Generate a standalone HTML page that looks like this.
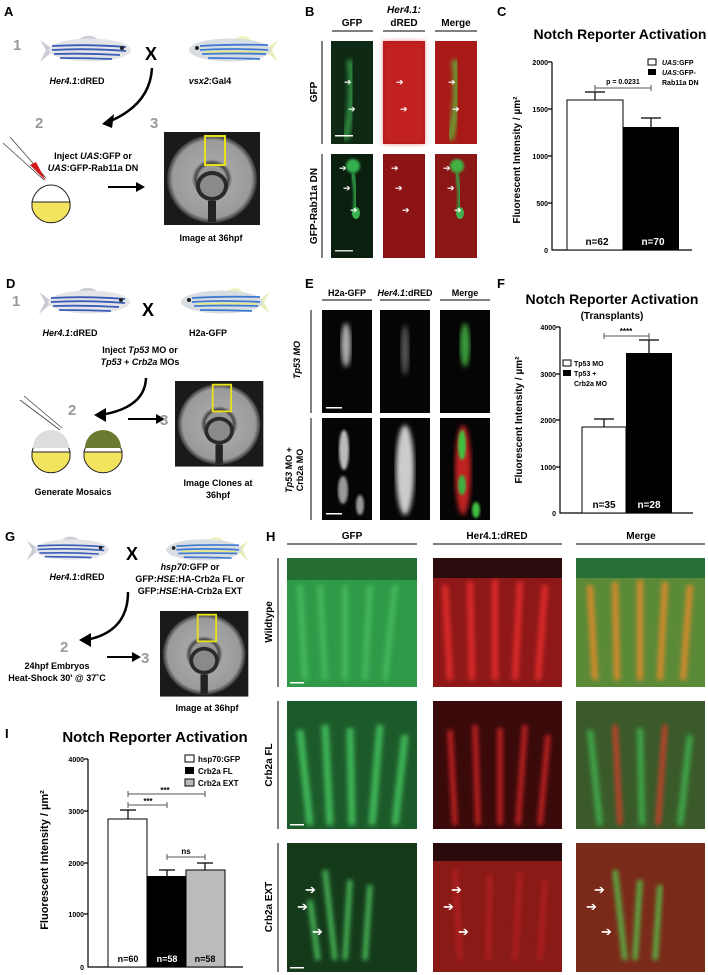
<!DOCTYPE html>
<html><head><meta charset="utf-8"><style>
html,body{margin:0;padding:0;background:#fff}
svg{display:block;font-family:"Liberation Sans",Arial,sans-serif}
</style></head><body>
<svg width="708" height="975" viewBox="0 0 708 975" xmlns="http://www.w3.org/2000/svg">
<defs>
<filter id="bl"><feGaussianBlur stdDeviation="2.5"/></filter>
<filter id="bl1"><feGaussianBlur stdDeviation="1.2"/></filter>
<g id="fishR">
 <path d="M2,5 L16,15 L2,27 L8,15 Z" fill="#c9ccd2"/>
 <path d="M40,5 Q50,-3 60,4 Z" fill="#c9ccd2"/>
 <ellipse cx="52" cy="15" rx="41" ry="11.5" fill="#e4e5e8"/>
 <path d="M14,11 Q50,9 88,12 M14,15 Q50,13 88,16 M16,19 Q50,18 82,20 M22,23 Q50,23 74,24" stroke="#3a5db8" stroke-width="1.8" fill="none"/>
 <circle cx="84" cy="13" r="2" fill="#222"/>
</g>
<g id="fishL">
 <path d="M98,5 L84,15 L98,27 L92,15 Z" fill="#e9eeb8"/>
 <path d="M55,4 Q65,-3 72,6 Z" fill="#eef2c0"/>
 <ellipse cx="50" cy="15" rx="41" ry="11.5" fill="#d8dde2"/>
 <path d="M20,11 Q50,9 88,10 M20,15 Q50,13 88,15 M22,19 Q55,18 86,19 M28,23 Q55,23 80,24" stroke="#3f7ad0" stroke-width="1.8" fill="none"/>
 <path d="M25,17 Q55,16 85,17" stroke="#e6ea7a" stroke-width="1.4" fill="none"/>
 <circle cx="17" cy="13" r="2" fill="#222"/>
</g>
<radialGradient id="ret" cx="50%" cy="50%" r="50%">
 <stop offset="0" stop-color="#888"/><stop offset="0.3" stop-color="#999"/><stop offset="0.36" stop-color="#444"/><stop offset="0.45" stop-color="#a5a5a5"/><stop offset="0.88" stop-color="#9a9a9a"/><stop offset="1" stop-color="#333"/>
</radialGradient>
<g id="retina">
 <rect x="0" y="0" width="96" height="93" fill="#1a1a1a"/>
 <ellipse cx="48" cy="47" rx="45" ry="44" fill="url(#ret)"/>
 <ellipse cx="48" cy="54" rx="16" ry="15" fill="#2a2a2a"/>
 <ellipse cx="48" cy="54" rx="12" ry="11" fill="#8a8a8a"/>
 <rect x="44" y="69" width="8" height="21" fill="#222"/>
 <rect x="41" y="4" width="20" height="29" fill="none" stroke="#e8e01a" stroke-width="2"/>
</g>
<g id="egg">
 <path d="M1,22 A19.5,22 0 0 1 39,22 Z" fill="#fff" stroke="#222"/>
 <path d="M1,22 L39,22 L39,28 A19.5,19 0 0 1 1,28 Z" fill="#f2e45e" stroke="#222"/>
</g>
</defs>

<g font-weight="bold" font-size="13">
<text x="4" y="16">A</text><text x="305" y="16">B</text><text x="497" y="16">C</text>
<text x="6" y="288">D</text><text x="305" y="288">E</text><text x="497" y="288">F</text>
<text x="5" y="541">G</text><text x="266" y="541">H</text><text x="5" y="738">I</text>
</g>

<!-- A -->
<text x="13" y="50" font-size="15" font-weight="bold" fill="#999">1</text>
<use href="#fishR" x="38" y="35"/>
<text x="145" y="60" font-size="18" font-weight="bold">X</text>
<use href="#fishL" x="180" y="35"/>
<g font-size="9" font-weight="bold" text-anchor="middle">
<text x="77" y="84"><tspan font-style="italic">Her4.1</tspan>:dRED</text>
<text x="210" y="84"><tspan font-style="italic">vsx2</tspan>:Gal4</text>
<text x="93" y="159">Inject <tspan font-style="italic">UAS</tspan>:GFP or</text>
<text x="93" y="171"><tspan font-style="italic">UAS</tspan>:GFP-Rab11a DN</text>
<text x="211" y="241">Image at 36hpf</text>
</g>
<path d="M152,68 Q150,105 108,122" stroke="#000" stroke-width="2.5" fill="none"/>
<path d="M102,124 L114,114 L112,128 Z" fill="#000"/>
<text x="35" y="128" font-size="15" font-weight="bold" fill="#999">2</text>
<text x="150" y="128" font-size="15" font-weight="bold" fill="#999">3</text>
<path d="M3,143 L44,180 M10,137 L46,178" stroke="#444" stroke-width="0.8"/>
<path d="M30,165 L46,181 L36,162 Z" fill="#d01818"/>
<use href="#egg" x="31" y="180"/>
<path d="M108,187 L138,187" stroke="#000" stroke-width="2"/><path d="M145,187 L136,182 L136,192 Z"/>
<use href="#retina" x="164" y="132"/>

<!-- B -->
<g font-size="10" font-weight="bold" text-anchor="middle">
<text x="352" y="26">GFP</text><text x="404" y="13" font-style="italic">Her4.1:</text><text x="404" y="26">dRED</text><text x="456" y="26">Merge</text>
</g>
<path d="M332,31 H373 M383,31 H425 M435,31 H477" stroke="#000"/>
<path d="M322,41 V144 M322,154 V258" stroke="#000"/>
<g font-size="10" font-weight="bold" text-anchor="middle">
<text transform="translate(317,92) rotate(-90)">GFP</text>
<text transform="translate(317,206) rotate(-90)">GFP-Rab11a DN</text>
</g>
<g>
<rect x="331" y="41" width="42" height="103" fill="#0f2a14"/>
<path d="M350,60 Q355,100 345,140" stroke="#2d8a40" stroke-width="7" fill="none" filter="url(#bl)"/>
<rect x="383" y="41" width="42" height="103" fill="#b01818"/>
<rect x="383" y="41" width="42" height="103" fill="#d22a2a" opacity=".5" filter="url(#bl)"/>
<rect x="435" y="41" width="42" height="103" fill="#a81a18"/>
<path d="M455,60 Q460,100 450,140" stroke="#6a9a30" stroke-width="7" fill="none" filter="url(#bl)"/>
<rect x="331" y="154" width="42" height="104" fill="#0b1f0e"/>
<circle cx="353" cy="166" r="7" fill="#35b050" filter="url(#bl1)"/>
<path d="M352,172 Q358,195 354,215" stroke="#2f9a45" stroke-width="4" fill="none" filter="url(#bl1)"/>
<ellipse cx="356" cy="213" rx="4" ry="6" fill="#3ab050"/>
<rect x="383" y="154" width="42" height="104" fill="#8c1414"/>
<rect x="435" y="154" width="42" height="104" fill="#8a1616"/>
<circle cx="457" cy="166" r="7" fill="#40b040" filter="url(#bl1)"/>
<path d="M456,172 Q462,195 458,215" stroke="#3a9a40" stroke-width="4" fill="none" filter="url(#bl1)"/>
<ellipse cx="460" cy="213" rx="4" ry="6" fill="#45b050"/>
<rect x="335" y="135" width="18" height="1.5" fill="#fff"/><rect x="335" y="250" width="18" height="1.5" fill="#ddd"/>
<g fill="#fff" font-size="9"><text x="344" y="85">➔</text><text x="348" y="112">➔</text><text x="396" y="85">➔</text><text x="400" y="112">➔</text><text x="448" y="85">➔</text><text x="452" y="112">➔</text>
<text x="339" y="171">➔</text><text x="343" y="191">➔</text><text x="350" y="213">➔</text><text x="391" y="171">➔</text><text x="395" y="191">➔</text><text x="402" y="213">➔</text><text x="443" y="171">➔</text><text x="447" y="191">➔</text><text x="454" y="213">➔</text></g>
</g>

<!-- C -->
<text x="620" y="39" font-size="14" font-weight="bold" text-anchor="middle">Notch Reporter Activation</text>
<g font-size="7" font-weight="bold" text-anchor="end">
<text x="548" y="65">2000</text><text x="548" y="112">1500</text><text x="548" y="159">1000</text><text x="548" y="206">500</text><text x="548" y="253">0</text>
</g>
<path d="M552,62 V250 H692 M548,62 H552 M548,109 H552 M548,156 H552 M548,203 H552" stroke="#000" stroke-width="1.2" fill="none"/>
<rect x="567" y="100" width="56" height="150" fill="#fff" stroke="#000"/>
<rect x="623" y="127" width="56" height="123" fill="#000"/>
<path d="M595,100 V92 M585,92 H605 M651,127 V118 M641,118 H661" stroke="#000" stroke-width="1.2"/>
<path d="M595,88 H651 M595,85 V91 M651,85 V91" stroke="#555"/>
<text x="623" y="84" font-size="7" font-weight="bold" text-anchor="middle">p = 0.0231</text>
<text transform="translate(520,160) rotate(-90)" font-size="10" font-weight="bold" text-anchor="middle">Fluorescent Intensity / µm²</text>
<text x="597" y="245" font-size="10" font-weight="bold" text-anchor="middle">n=62</text>
<text x="653" y="245" font-size="10" font-weight="bold" text-anchor="middle" fill="#fff">n=70</text>
<rect x="648" y="59" width="8" height="6" fill="#fff" stroke="#000"/><rect x="648" y="69" width="8" height="6" fill="#000"/>
<g font-size="7" font-weight="bold"><text x="662" y="65"><tspan font-style="italic">UAS</tspan>:GFP</text><text x="662" y="75"><tspan font-style="italic">UAS</tspan>:GFP-</text><text x="662" y="85">Rab11a DN</text></g>

<!-- D -->
<text x="12" y="306" font-size="15" font-weight="bold" fill="#999">1</text>
<use href="#fishR" x="37" y="287"/>
<text x="142" y="316" font-size="18" font-weight="bold">X</text>
<use href="#fishL" x="172" y="287"/>
<g font-size="9" font-weight="bold" text-anchor="middle">
<text x="70" y="336"><tspan font-style="italic">Her4.1</tspan>:dRED</text>
<text x="208" y="336">H2a-GFP</text>
<text x="140" y="353">Inject <tspan font-style="italic">Tp53</tspan> MO or</text>
<text x="140" y="365"><tspan font-style="italic">Tp53</tspan> + <tspan font-style="italic">Crb2a</tspan> MOs</text>
<text x="73" y="495">Generate Mosaics</text>
<text x="218" y="486">Image Clones at</text><text x="218" y="498">36hpf</text>
</g>
<path d="M146,378 Q145,408 100,415" stroke="#000" stroke-width="2.5" fill="none"/>
<path d="M94,415 L106,408 L106,422 Z"/>
<text x="68" y="415" font-size="15" font-weight="bold" fill="#999">2</text>
<path d="M128,419 L158,419" stroke="#000" stroke-width="2"/><path d="M165,419 L156,414 L156,424 Z"/>
<text x="160" y="425" font-size="15" font-weight="bold" fill="#999">3</text>
<path d="M20,400 L60,430 M24,396 L62,428" stroke="#444" stroke-width="0.8"/>
<use href="#egg" x="31" y="430"/>
<use href="#egg" x="83" y="430"/>
<path d="M33,448 A18,18 0 0 1 69,448 Z" fill="#ddd"/>
<path d="M85,448 A18,18 0 0 1 121,448 Z" fill="#6a7a30"/>
<use href="#retina" transform="translate(175,381) scale(0.92)"/>

<!-- E -->
<g font-size="9" font-weight="bold" text-anchor="middle">
<text x="347" y="296">H2a-GFP</text><text x="405" y="296"><tspan font-style="italic">Her4.1</tspan>:dRED</text><text x="465" y="296">Merge</text>
<text transform="translate(300,360) rotate(-90)" font-style="italic">Tp53 MO</text>
<text transform="translate(292,470) rotate(-90)"><tspan font-style="italic">Tp53</tspan> MO +</text>
<text transform="translate(303,470) rotate(-90)">Crb2a MO</text>
</g>
<path d="M322,300 H372 M380,300 H430 M440,300 H490 M311,310 V413 M311,418 V520" stroke="#000"/>
<rect x="322" y="310" width="50" height="103" fill="#050505"/>
<ellipse cx="346" cy="345" rx="5" ry="22" fill="#aaa" filter="url(#bl)"/>
<rect x="380" y="310" width="50" height="103" fill="#050505"/>
<ellipse cx="405" cy="350" rx="4" ry="25" fill="#555" filter="url(#bl)"/>
<rect x="440" y="310" width="50" height="103" fill="#050505"/>
<ellipse cx="465" cy="345" rx="5" ry="22" fill="#3a9a3a" filter="url(#bl)"/>
<rect x="322" y="418" width="50" height="102" fill="#050505"/>
<ellipse cx="344" cy="450" rx="5" ry="20" fill="#bbb" filter="url(#bl1)"/>
<ellipse cx="343" cy="490" rx="5" ry="14" fill="#999" filter="url(#bl1)"/>
<ellipse cx="360" cy="505" rx="4" ry="10" fill="#999" filter="url(#bl1)"/>
<rect x="380" y="418" width="50" height="102" fill="#050505"/>
<ellipse cx="405" cy="470" rx="9" ry="45" fill="#ccc" filter="url(#bl)"/>
<rect x="440" y="418" width="50" height="102" fill="#050505"/>
<ellipse cx="463" cy="470" rx="8" ry="45" fill="#c02020" filter="url(#bl)"/>
<ellipse cx="462" cy="445" rx="4" ry="15" fill="#40c040" filter="url(#bl1)"/>
<ellipse cx="462" cy="485" rx="4" ry="10" fill="#40b040" filter="url(#bl1)"/>
<ellipse cx="476" cy="510" rx="4" ry="8" fill="#40c040" filter="url(#bl1)"/>
<rect x="326" y="407" width="16" height="1.5" fill="#fff"/><rect x="326" y="513" width="16" height="1.5" fill="#fff"/>

<!-- F -->
<text x="612" y="304" font-size="14" font-weight="bold" text-anchor="middle">Notch Reporter Activation</text>
<text x="612" y="319" font-size="10" font-weight="bold" text-anchor="middle">(Transplants)</text>
<g font-size="7" font-weight="bold" text-anchor="end">
<text x="556" y="330">4000</text><text x="556" y="377">3000</text><text x="556" y="423">2000</text><text x="556" y="470">1000</text><text x="556" y="516">0</text>
</g>
<path d="M560,327 V513 H693 M556,327 H560 M556,374 H560 M556,420 H560 M556,467 H560" stroke="#000" stroke-width="1.2" fill="none"/>
<rect x="582" y="427" width="44" height="86" fill="#fff" stroke="#000"/>
<rect x="626" y="353" width="46" height="160" fill="#000"/>
<path d="M604,427 V419 M594,419 H614 M649,353 V340 M639,340 H659" stroke="#000" stroke-width="1.2"/>
<path d="M604,336 H649 M604,333 V339 M649,333 V339" stroke="#555"/>
<text x="626" y="334" font-size="8" font-weight="bold" text-anchor="middle">****</text>
<text transform="translate(522,420) rotate(-90)" font-size="10" font-weight="bold" text-anchor="middle">Fluorescent Intensity / µm²</text>
<text x="604" y="508" font-size="10" font-weight="bold" text-anchor="middle">n=35</text>
<text x="649" y="508" font-size="10" font-weight="bold" text-anchor="middle" fill="#fff">n=28</text>
<rect x="563" y="360" width="8" height="6" fill="#fff" stroke="#000"/><rect x="563" y="370" width="8" height="6" fill="#000"/>
<g font-size="7" font-weight="bold"><text x="574" y="366">Tp53 MO</text><text x="574" y="376">Tp53 +</text><text x="574" y="386">Crb2a MO</text></g>

<!-- G -->
<use href="#fishR" transform="translate(25,536) scale(0.9)"/>
<text x="126" y="560" font-size="18" font-weight="bold">X</text>
<use href="#fishL" transform="translate(158,536) scale(0.92)"/>
<g font-size="9" font-weight="bold" text-anchor="middle">
<text x="77" y="580"><tspan font-style="italic">Her4.1</tspan>:dRED</text>
<text x="190" y="570"><tspan font-style="italic">hsp70</tspan>:GFP or</text>
<text x="190" y="582">GFP:<tspan font-style="italic">HSE</tspan>:HA-Crb2a FL or</text>
<text x="190" y="594">GFP:<tspan font-style="italic">HSE</tspan>:HA-Crb2a EXT</text>
<text x="57" y="669">24hpf Embryos</text>
<text x="57" y="681">Heat-Shock 30' @ 37˚C</text>
<text x="207" y="711">Image at 36hpf</text>
</g>
<path d="M128,592 Q128,632 86,640" stroke="#000" stroke-width="2.5" fill="none"/>
<path d="M79,640 L91,633 L91,647 Z"/>
<text x="60" y="652" font-size="15" font-weight="bold" fill="#999">2</text>
<path d="M107,657 L133,657" stroke="#000" stroke-width="2"/><path d="M141,657 L132,652 L132,662 Z"/>
<text x="141" y="663" font-size="15" font-weight="bold" fill="#999">3</text>
<use href="#retina" transform="translate(160,611) scale(0.92,0.92)"/>

<!-- H -->
<g font-size="10" font-weight="bold" text-anchor="middle">
<text x="352" y="539">GFP</text><text x="497" y="539">Her4.1:dRED</text><text x="641" y="539">Merge</text>
<text transform="translate(272,622) rotate(-90)">Wildtype</text>
<text transform="translate(272,765) rotate(-90)">Crb2a FL</text>
<text transform="translate(272,907) rotate(-90)">Crb2a EXT</text>
</g>
<path d="M287,544 H417 M433,544 H562 M576,544 H705 M278,558 V687 M278,701 V829 M278,843 V972" stroke="#000"/>
<!-- row1 -->
<rect x="287" y="558" width="130" height="129" fill="#2f9a48"/>
<rect x="287" y="558" width="130" height="22" fill="#246e32"/>
<g stroke="#48c060" stroke-width="6" filter="url(#bl)" opacity=".8"><path d="M300,585 L305,680 M320,585 L325,680 M345,585 L345,680 M370,585 L365,680 M395,585 L385,680"/></g>
<rect x="433" y="558" width="129" height="129" fill="#8e1818"/>
<rect x="433" y="558" width="129" height="20" fill="#2a0c0c"/>
<g stroke="#e02a2a" stroke-width="6" filter="url(#bl)"><path d="M445,585 L450,680 M470,582 L472,680 M495,580 L495,680 M520,582 L515,680 M545,585 L538,680"/></g>
<rect x="576" y="558" width="129" height="129" fill="#5a8a38"/>
<rect x="576" y="558" width="129" height="20" fill="#267038"/>
<g stroke="#d88a2a" stroke-width="6" filter="url(#bl)"><path d="M590,585 L595,680 M615,582 L617,680 M640,580 L640,680 M665,582 L660,680 M690,585 L683,680"/></g>
<!-- row2 -->
<rect x="287" y="701" width="130" height="128" fill="#1c5a2a"/>
<g stroke="#40b858" stroke-width="7" filter="url(#bl)"><path d="M300,730 L310,825 M325,725 L330,825 M350,728 L352,825 M380,725 L372,825 M405,735 L395,825"/></g>
<rect x="433" y="701" width="129" height="128" fill="#3a0a0a"/>
<g stroke="#c82222" stroke-width="5" filter="url(#bl)"><path d="M450,730 L455,825 M475,725 L478,825 M500,728 L500,825 M525,725 L518,825 M548,735 L540,825"/></g>
<rect x="576" y="701" width="129" height="128" fill="#3a5a2a"/>
<g stroke="#40a848" stroke-width="6" filter="url(#bl)"><path d="M590,730 L600,825 M640,728 L642,825 M690,735 L680,825"/></g>
<g stroke="#c8402a" stroke-width="5" filter="url(#bl)"><path d="M615,725 L620,825 M665,725 L658,825"/></g>
<!-- row3 -->
<rect x="287" y="843" width="130" height="129" fill="#143a1a"/>
<g stroke="#4ab858" stroke-width="5" filter="url(#bl)"><path d="M325,870 L335,960 M350,880 L345,960 M370,885 L365,960 M310,900 L318,960"/></g>
<rect x="433" y="843" width="129" height="129" fill="#8a1a16"/>
<rect x="433" y="843" width="129" height="18" fill="#2a0a0a"/>
<g stroke="#b82420" stroke-width="4" filter="url(#bl)"><path d="M455,870 L460,960 M490,875 L488,960 M520,872 L515,960 M545,880 L540,960"/></g>
<rect x="576" y="843" width="129" height="129" fill="#7a2a18"/>
<g stroke="#58b848" stroke-width="5" filter="url(#bl)"><path d="M615,870 L625,960 M640,880 L635,960 M660,885 L655,960"/></g>
<g fill="#fff" font-size="13"><text x="305" y="894">➔</text><text x="297" y="911">➔</text><text x="312" y="936">➔</text>
<text x="451" y="894">➔</text><text x="443" y="911">➔</text><text x="458" y="936">➔</text>
<text x="594" y="894">➔</text><text x="586" y="911">➔</text><text x="601" y="936">➔</text></g>
<rect x="290" y="682" width="14" height="1.5" fill="#fff"/><rect x="290" y="824" width="14" height="1.5" fill="#fff"/><rect x="290" y="967" width="14" height="1.5" fill="#fff"/>

<!-- I -->
<text x="155" y="742" font-size="15" font-weight="bold" text-anchor="middle">Notch Reporter Activation</text>
<g font-size="7" font-weight="bold" text-anchor="end">
<text x="84" y="762">4000</text><text x="84" y="814">3000</text><text x="84" y="866">2000</text><text x="84" y="917">1000</text><text x="84" y="970">0</text>
</g>
<path d="M88,759 V967 H243 M84,759 H88 M84,811 H88 M84,863 H88 M84,914 H88" stroke="#000" stroke-width="1.2" fill="none"/>
<rect x="108" y="819" width="39" height="148" fill="#fff" stroke="#000"/>
<rect x="147" y="876" width="39" height="91" fill="#000"/>
<rect x="186" y="870" width="39" height="97" fill="#bbb" stroke="#000"/>
<path d="M128,819 V810 M120,810 H136 M167,876 V870 M159,870 H175 M205,870 V863 M197,863 H213" stroke="#000" stroke-width="1.2"/>
<path d="M128,794 H205 M128,791 V797 M205,791 V797 M128,805 H167 M128,802 V808 M167,802 V808 M167,857 H205 M167,854 V860 M205,854 V860" stroke="#555"/>
<g font-size="8" font-weight="bold" text-anchor="middle"><text x="165" y="793">***</text><text x="148" y="804">***</text><text x="186" y="854">ns</text></g>
<text transform="translate(48,860) rotate(-90)" font-size="11" font-weight="bold" text-anchor="middle">Fluorescent Intensity / µm²</text>
<g font-size="9" font-weight="bold" text-anchor="middle"><text x="128" y="962">n=60</text><text x="167" y="962" fill="#fff">n=58</text><text x="205" y="962">n=58</text></g>
<rect x="185" y="755" width="9" height="7" fill="#fff" stroke="#000"/><rect x="185" y="767" width="9" height="7" fill="#000"/><rect x="185" y="779" width="9" height="7" fill="#bbb" stroke="#000"/>
<g font-size="8" font-weight="bold"><text x="198" y="762">hsp70:GFP</text><text x="198" y="774">Crb2a FL</text><text x="198" y="786">Crb2a EXT</text></g>
</svg>
</body></html>
